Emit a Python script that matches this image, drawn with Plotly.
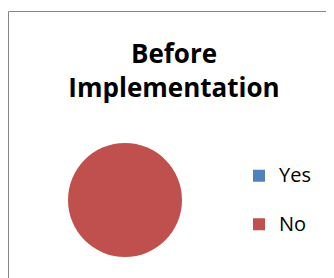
import plotly.graph_objects as go

labels = ["Yes", "No"]
values = [0, 100]
colors = ["#4F81BD", "#C0504D"]
title_lines = ["Before", "Implementation"]

W, H = 334, 278
OFF = 8  # page body margin offset

def fx(px):
    return (px - OFF) / W

def fy(py):
    return 1 - (py - OFF) / H

legend_labels = [
    '<span style="font-size:20px;baseline-shift:7px">%s</span>' % l for l in labels
]

fig = go.Figure(go.Pie(
    labels=legend_labels,
    values=values,
    marker=dict(colors=colors, line=dict(width=0)),
    textinfo="none",
    hovertext=labels,
    hoverinfo="text+percent",
    sort=False,
    direction="clockwise",
    domain=dict(x=[fx(68), fx(182)], y=[fy(257), fy(143)]),
))

fig.update_layout(
    width=W, height=H,
    margin=dict(l=0, r=0, t=0, b=0),
    paper_bgcolor="white",
    font=dict(family="Open Sans, sans-serif", color="black"),
    title=dict(
        text="<b>" + "<br>".join(title_lines) + "</b>",
        x=fx(174), xanchor="center",
        y=fy(63), yanchor="top",
        font=dict(size=26, family="Open Sans, sans-serif", color="black"),
    ),
    legend=dict(
        x=fx(239), xanchor="left",
        y=fy(200), yanchor="middle",
        font=dict(size=35, color="black"),
        bgcolor="rgba(0,0,0,0)",
    ),
    shapes=[dict(
        type="rect", xref="paper", yref="paper",
        x0=fx(8.5), x1=1.2, y0=-0.2, y1=fy(11.5),
        line=dict(color="#868686", width=1),
        fillcolor="rgba(0,0,0,0)",
    )],
)

fig.write_html("out.html")
